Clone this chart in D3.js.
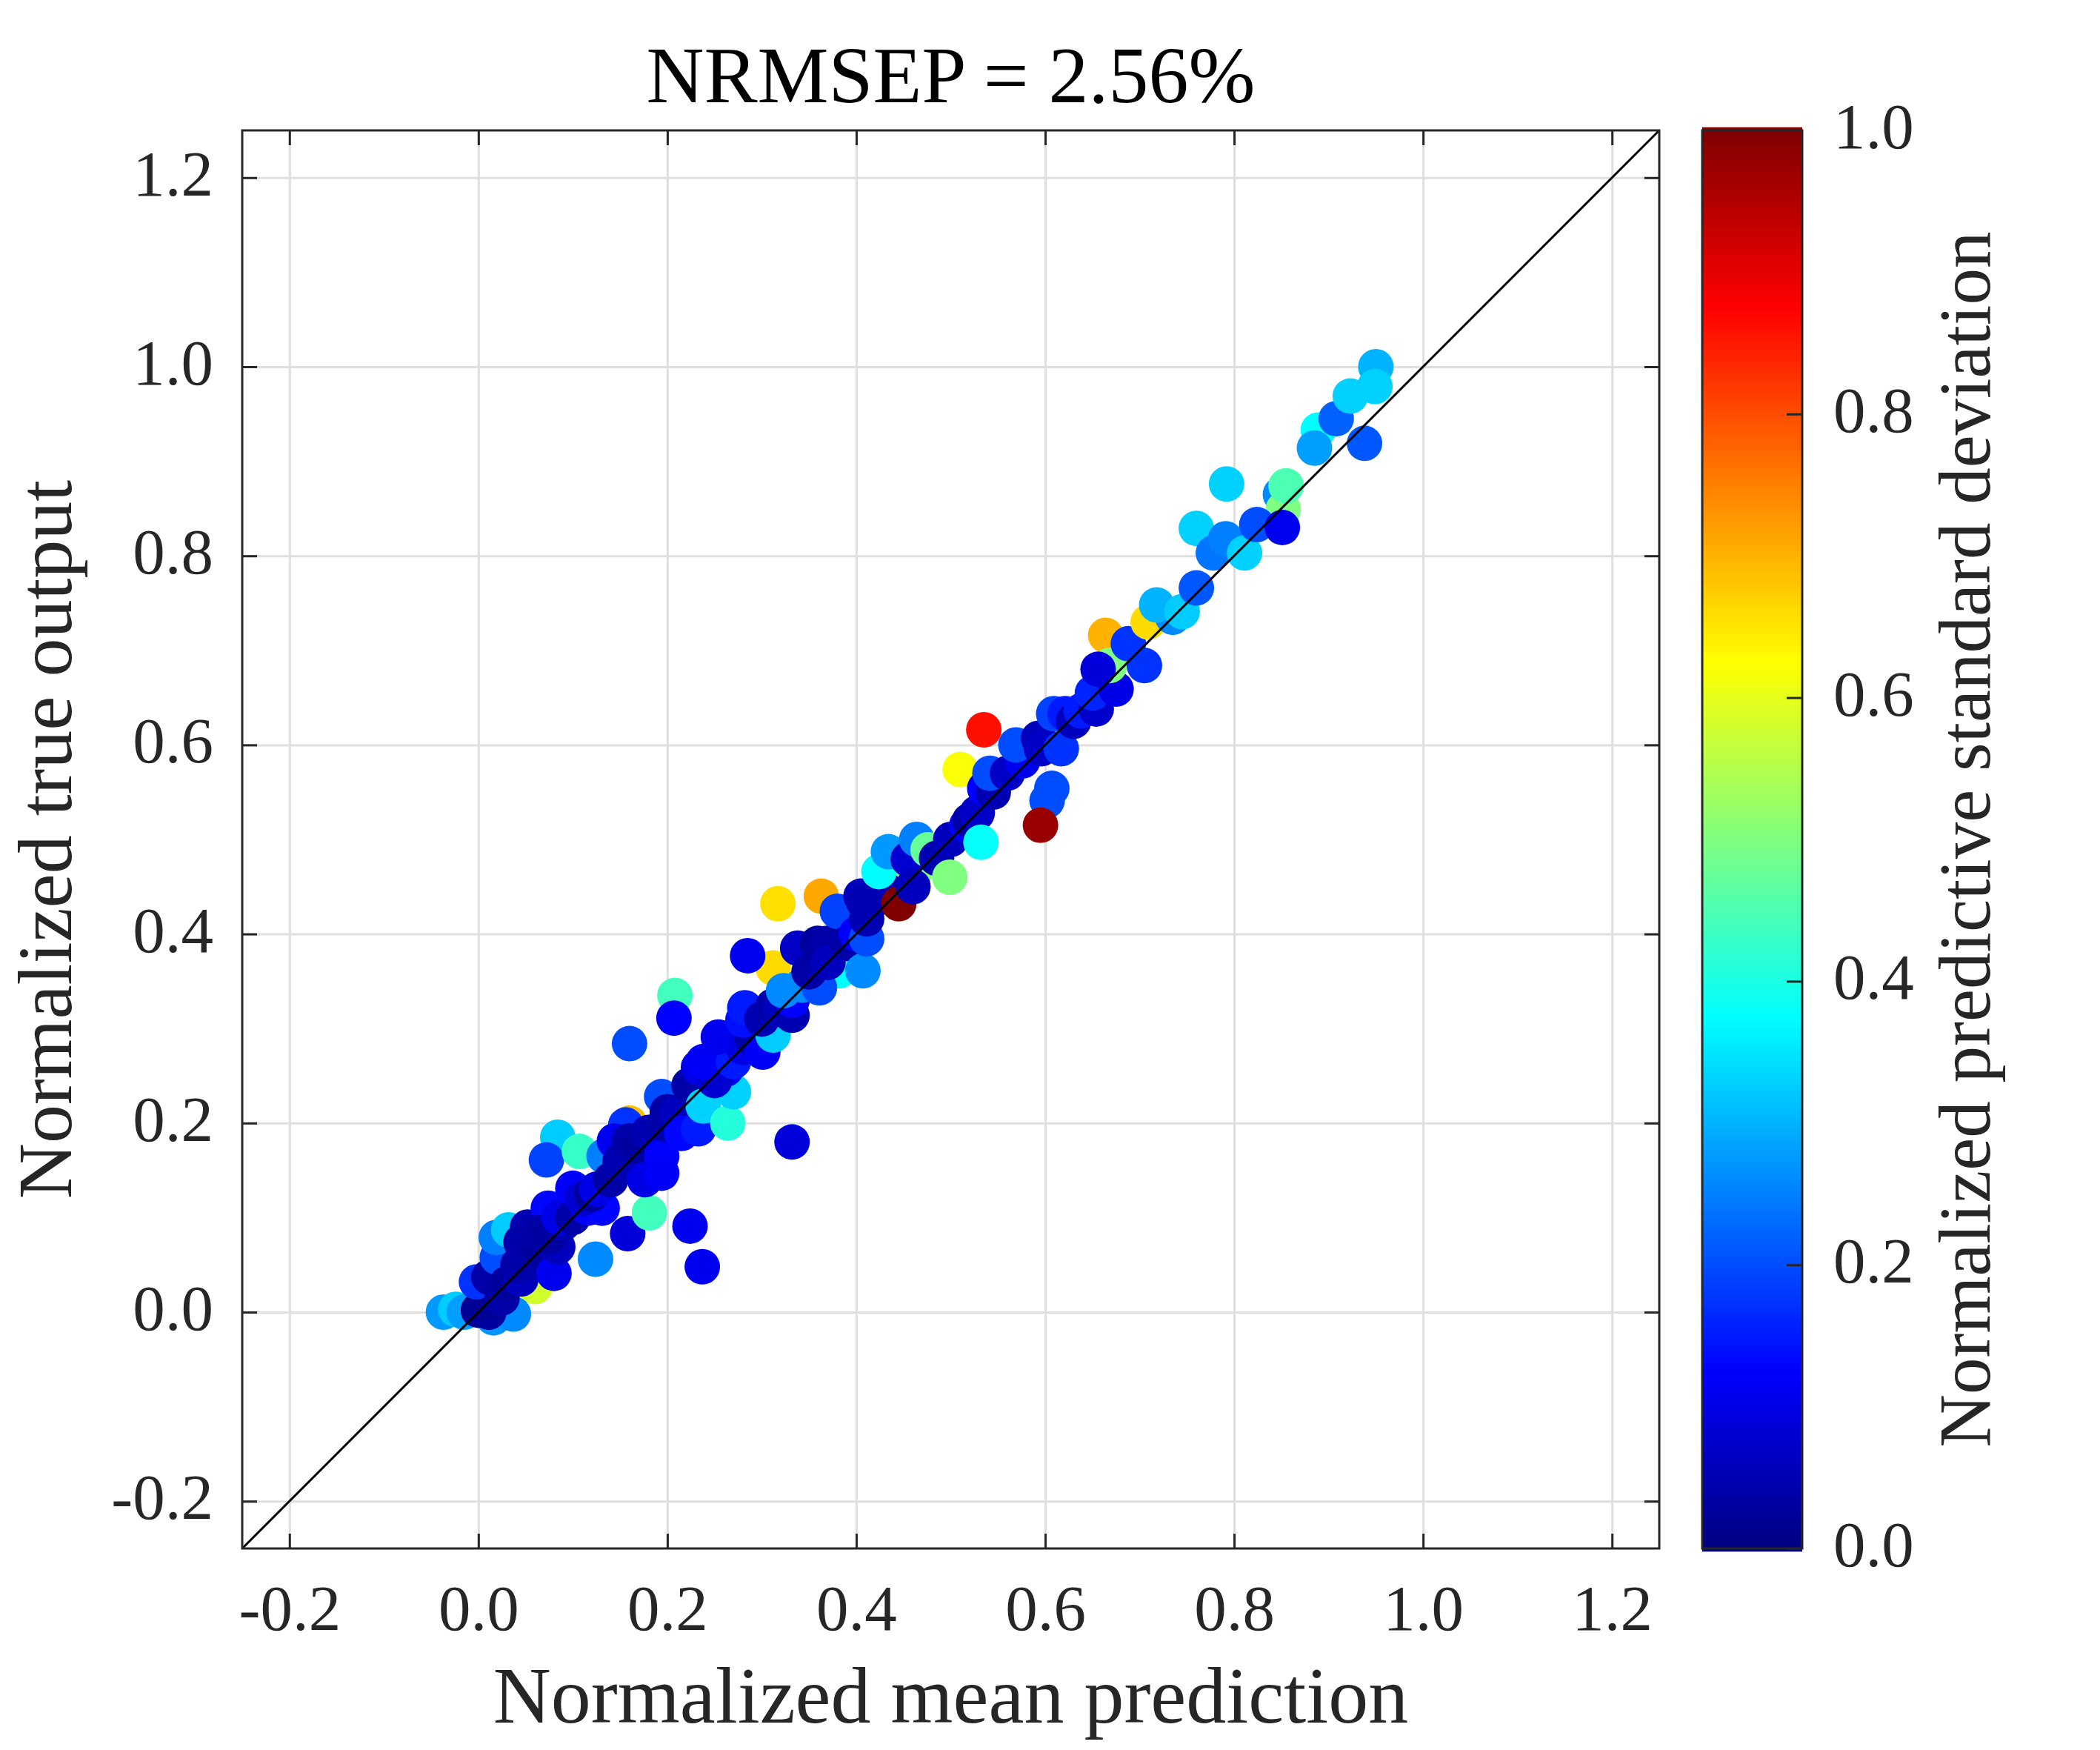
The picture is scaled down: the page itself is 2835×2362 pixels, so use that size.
<!DOCTYPE html>
<html>
<head>
<meta charset="utf-8">
<script src="https://cdn.jsdelivr.net/npm/d3@7"></script>
<style>
  body { margin: 0; background: #fff; }
  text { font-family: "Liberation Serif", "Times New Roman", serif; fill: #262626; }
</style>
</head>
<body>
<div id="chart"></div>
<script>
// normalized mean prediction (x), true output (y), predictive std (colour)
const predMean = [
  0.025, 0.060, 0.160, 0.178, 0.016, 0.359, 0.612, 0.849, 0.852, 0.889, 0.461, 0.382, 0.312,
  -0.037, -0.024, -0.015, 0.037, 0.000, 0.011, 0.006, -0.002, 0.011, 0.020, 0.019, 0.032,
  0.025, 0.030, 0.045, 0.052, 0.045, 0.042, 0.055, 0.065, 0.080, 0.074, 0.063, 0.084, 0.075,
  0.090, 0.085, 0.100, 0.100, 0.116, 0.131, 0.110, 0.120, 0.125, 0.124, 0.158, 0.181, 0.224,
  0.237, 0.084, 0.072, 0.107, 0.133, 0.156, 0.144, 0.140, 0.150, 0.160, 0.170, 0.176, 0.180,
  0.194, 0.194, 0.194, 0.197, 0.200, 0.210, 0.215, 0.233, 0.223, 0.238, 0.264, 0.270, 0.233,
  0.262, 0.160, 0.208, 0.207,
  0.250, 0.260, 0.238, 0.270, 0.254, 0.280, 0.290, 0.301, 0.312, 0.280, 0.282, 0.300, 0.312,
  0.320, 0.332, 0.332, 0.323, 0.343, 0.361, 0.332, 0.285, 0.317, 0.363, 0.338, 0.350, 0.359,
  0.369, 0.370, 0.380, 0.390, 0.407, 0.400, 0.411, 0.411, 0.405, 0.408, 0.421, 0.430, 0.445,
  0.424, 0.434, 0.455, 0.460, 0.464, 0.476, 0.485, 0.499,
  0.500, 0.517, 0.520, 0.528, 0.532, 0.510, 0.536, 0.545, 0.5415, 0.560, 0.576, 0.569, 0.593,
  0.596, 0.617, 0.607, 0.602, 0.595, 0.535, 0.609, 0.621, 0.630, 0.638, 0.654, 0.650, 0.675,
  0.664, 0.668, 0.656, 0.705, 0.688, 0.709,
  0.735, 0.718, 0.745, 0.760, 0.760, 0.778, 0.791, 0.811, 0.792, 0.824, 0.851, 0.855, 0.885,
  0.908, 0.923, 0.950, 0.949, 0.938
];
const trueOut = [
  0.060, 0.027, 0.200, 0.152, -0.006, 0.361, 0.612, 0.865, 0.849, 0.933, 0.463, 0.361, 0.364,
  0.000, 0.003, 0.000, -0.002, 0.002, 0.000, 0.010, 0.032, 0.037, 0.058, 0.079, 0.087,
  0.015, 0.030, 0.035, 0.090, 0.074, 0.050, 0.053, 0.065, 0.041, 0.110, 0.084, 0.069, 0.080,
  0.094, 0.100, 0.100, 0.131, 0.110, 0.110, 0.120, 0.125, 0.130, 0.056, 0.083, 0.105, 0.091,
  0.048, 0.185, 0.161, 0.170, 0.165, 0.198, 0.181, 0.140, 0.160, 0.181, 0.175, 0.140, 0.190,
  0.165, 0.147, 0.228, 0.199, 0.212, 0.210, 0.189, 0.194, 0.240, 0.218, 0.200, 0.233, 0.259,
  0.257, 0.284, 0.335, 0.311,
  0.245, 0.270, 0.265, 0.265, 0.291, 0.280, 0.290, 0.275, 0.293, 0.309, 0.322, 0.310, 0.324,
  0.320, 0.314, 0.330, 0.340, 0.346, 0.343, 0.180, 0.377, 0.432, 0.440, 0.385, 0.360, 0.390,
  0.390, 0.370, 0.424, 0.390, 0.361, 0.400, 0.395, 0.416, 0.440, 0.434, 0.437, 0.448, 0.432,
  0.466, 0.487, 0.479, 0.450, 0.500, 0.489, 0.480, 0.460,
  0.500, 0.515, 0.520, 0.528, 0.497, 0.574, 0.554, 0.550, 0.570, 0.570, 0.583, 0.600, 0.607,
  0.596, 0.596, 0.554, 0.541, 0.515, 0.616, 0.633, 0.633, 0.625, 0.636, 0.638, 0.655, 0.659,
  0.716, 0.684, 0.680, 0.684, 0.707, 0.730,
  0.735, 0.748, 0.741, 0.766, 0.829, 0.803, 0.818, 0.803, 0.876, 0.833, 0.830, 0.874, 0.914,
  0.945, 0.969, 1.000, 0.979, 0.919
];
const predStd = [
  0.57, 0.58, 0.69, 0.36, 0.27, 0.35, 0.50, 0.26, 0.50, 0.375, 0.50, 0.375, 0.66,
  0.275, 0.325, 0.28, 0.26, 0.02, 0.03, 0.02, 0.175, 0.04, 0.20, 0.25, 0.325,
  0.04, 0.03, 0.06, 0.05, 0.04, 0.04, 0.04, 0.03, 0.11, 0.13, 0.04, 0.06, 0.03,
  0.05, 0.10, 0.04, 0.12, 0.12, 0.13, 0.08, 0.03, 0.10, 0.26, 0.09, 0.44, 0.11,
  0.11, 0.325, 0.19, 0.43, 0.25, 0.175, 0.11, 0.04, 0.05, 0.04, 0.03, 0.10, 0.05,
  0.125, 0.12, 0.20, 0.04, 0.04, 0.06, 0.13, 0.15, 0.04, 0.33, 0.41, 0.33, 0.10,
  0.11, 0.20, 0.44, 0.125,
  0.08, 0.03, 0.12, 0.15, 0.11, 0.10, 0.04, 0.12, 0.325, 0.14, 0.15, 0.05, 0.04,
  0.06, 0.05, 0.125, 0.26, 0.26, 0.20, 0.09, 0.11, 0.655, 0.71, 0.07, 0.04, 0.03,
  0.04, 0.06, 0.19, 0.04, 0.26, 0.12, 0.20, 0.05, 0.06, 0.05, 0.05, 0.05, 1.00,
  0.375, 0.275, 0.08, 0.06, 0.25, 0.475, 0.05, 0.50,
  0.06, 0.125, 0.04, 0.07, 0.38, 0.62, 0.125, 0.05, 0.20, 0.07, 0.11, 0.20, 0.06,
  0.07, 0.175, 0.20, 0.20, 0.975, 0.86, 0.19, 0.15, 0.06, 0.15, 0.075, 0.16, 0.10,
  0.70, 0.50, 0.09, 0.175, 0.175, 0.66,
  0.26, 0.30, 0.325, 0.21, 0.33, 0.24, 0.25, 0.33, 0.33, 0.20, 0.11, 0.45, 0.28,
  0.22, 0.33, 0.30, 0.33, 0.21
];
const axisTicks = [-0.2, 0, 0.2, 0.4, 0.6, 0.8, 1.0, 1.2];
const barTicks = [0, 0.2, 0.4, 0.6, 0.8, 1.0];

const width = 2835, height = 2362;
const plot = { left: 327, right: 2240, top: 176, bottom: 2090 };
const bar = { left: 2298, right: 2433 };
const ink = "#262626";

const svg = d3.select("#chart").append("svg")
    .attr("width", width)
    .attr("height", height)
    .attr("viewBox", [0, 0, width, height]);

const x = d3.scaleLinear().domain([-0.25, 1.25]).range([plot.left, plot.right]);
const y = d3.scaleLinear().domain([-0.25, 1.25]).range([plot.bottom, plot.top]);
const c = d3.scaleLinear().domain([0, 1]).range([plot.bottom, plot.top]);

// MATLAB style jet colormap
function jet(t) {
  const f = v => Math.round(255 * Math.max(0, Math.min(1, v)));
  return `rgb(${f(1.5 - Math.abs(4 * t - 3))},${f(1.5 - Math.abs(4 * t - 2))},${f(1.5 - Math.abs(4 * t - 1))})`;
}
const fmt = d => d.toFixed(1);
const plotW = plot.right - plot.left, plotH = plot.bottom - plot.top;

// grid
svg.append("g")
    .attr("transform", `translate(0,${plot.bottom})`)
    .call(d3.axisBottom(x).tickValues(axisTicks).tickSize(-plotH).tickFormat(""))
    .call(g => g.select(".domain").remove())
    .call(g => g.selectAll("line").attr("stroke", "#dfdfdf").attr("stroke-width", 3));
svg.append("g")
    .attr("transform", `translate(${plot.left},0)`)
    .call(d3.axisLeft(y).tickValues(axisTicks).tickSize(-plotW).tickFormat(""))
    .call(g => g.select(".domain").remove())
    .call(g => g.selectAll("line").attr("stroke", "#dfdfdf").attr("stroke-width", 3));

// points
svg.append("g")
  .selectAll("circle")
  .data(predMean.map((d, i) => ({ m: d, t: trueOut[i], s: predStd[i] })))
  .join("circle")
    .attr("cx", d => x(d.m))
    .attr("cy", d => y(d.t))
    .attr("r", 24)
    .attr("fill", d => jet(d.s));

// y = x reference line
svg.append("line")
    .attr("x1", x(-0.25)).attr("y1", y(-0.25))
    .attr("x2", x(1.25)).attr("y2", y(1.25))
    .attr("stroke", "#000")
    .attr("stroke-width", 3);

// axes with inward ticks on all four sides
function styleAxis(g) {
  g.select(".domain").remove();
  g.selectAll("line").attr("stroke", ink).attr("stroke-width", 3);
  g.selectAll("text").style("font-size", "87px").attr("fill", ink);
}
svg.append("g")
    .attr("transform", `translate(0,${plot.bottom})`)
    .call(d3.axisBottom(x).tickValues(axisTicks).tickSize(-20).tickFormat(fmt))
    .call(styleAxis)
    .call(g => g.selectAll("text").attr("y", 110).attr("dy", 0));
svg.append("g")
    .attr("transform", `translate(${plot.left},0)`)
    .call(d3.axisLeft(y).tickValues(axisTicks).tickSize(-20).tickFormat(fmt).tickPadding(39))
    .call(styleAxis)
    .call(g => g.selectAll("text").attr("dy", "0.27em"));
svg.append("g")
    .attr("transform", `translate(0,${plot.top})`)
    .call(d3.axisTop(x).tickValues(axisTicks).tickSize(-20).tickFormat(""))
    .call(styleAxis);
svg.append("g")
    .attr("transform", `translate(${plot.right},0)`)
    .call(d3.axisRight(y).tickValues(axisTicks).tickSize(-20).tickFormat(""))
    .call(styleAxis);

svg.append("rect")
    .attr("x", plot.left).attr("y", plot.top)
    .attr("width", plotW).attr("height", plotH)
    .attr("fill", "none")
    .attr("stroke", ink)
    .attr("stroke-width", 3);

// colorbar
const steps = d3.range(256).map(i => i / 255);
svg.append("g")
  .selectAll("rect")
  .data(steps)
  .join("rect")
    .attr("x", bar.left)
    .attr("width", bar.right - bar.left)
    .attr("y", d => c(d) - plotH / 255 / 2 - 0.5)
    .attr("height", plotH / 255 + 1)
    .attr("fill", d => jet(d));
svg.append("rect")
    .attr("x", bar.left).attr("y", plot.top)
    .attr("width", bar.right - bar.left).attr("height", plotH)
    .attr("fill", "none")
    .attr("stroke", ink)
    .attr("stroke-width", 3);
svg.append("g")
    .attr("transform", `translate(${bar.right},0)`)
    .call(d3.axisRight(c).tickValues(barTicks).tickSize(-21).tickFormat(fmt).tickPadding(42))
    .call(styleAxis)
    .call(g => g.selectAll("text").attr("dy", "0.27em"));

// labels
svg.append("text")
    .attr("x", (plot.left + plot.right) / 2)
    .attr("y", 138)
    .attr("text-anchor", "middle")
    .style("font-size", "108px")
    .style("fill", "#000")
    .text("NRMSEP = 2.56%");

svg.append("text")
    .attr("x", (plot.left + plot.right) / 2)
    .attr("y", 2325)
    .attr("text-anchor", "middle")
    .style("font-size", "108px")
    .text("Normalized mean prediction");

svg.append("text")
    .attr("transform", `translate(96,${(plot.top + plot.bottom) / 2}) rotate(-90)`)
    .attr("text-anchor", "middle")
    .style("font-size", "104px")
    .text("Normalized true output");

svg.append("text")
    .attr("transform", `translate(2686,${(plot.top + plot.bottom) / 2}) rotate(-90)`)
    .attr("text-anchor", "middle")
    .style("font-size", "99px")
    .text("Normalized predictive standard deviation");
</script>
</body>
</html>
